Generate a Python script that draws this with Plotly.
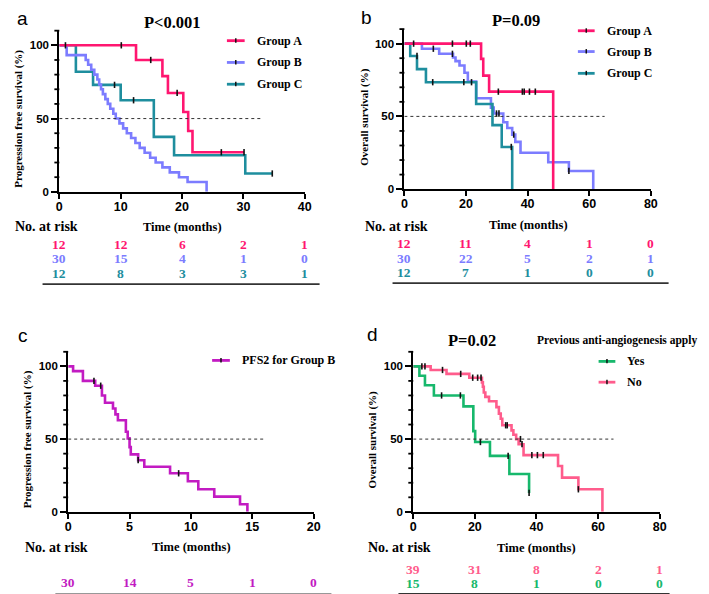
import plotly.graph_objects as go

W, H = 709, 594

# ---------------- data ----------------
a_A_t = [0, 12.5, 16.8, 17.7, 20.2, 21.0, 21.7, 30.1]
a_A_s = [100, 90, 79, 67.5, 54.5, 41.5, 27, 27]
a_A_ct = [1.0, 10.1, 14.9, 19.2, 26.4, 30.1]
a_A_cs = [100, 100, 90, 67.5, 27, 27]

a_B_t = [0, 1.2, 4.3, 4.7, 5.2, 5.7, 6.2, 6.5, 6.8, 7.1, 7.5, 7.9, 8.3, 8.8, 9.2,
         9.8, 10.4, 11.0, 11.7, 12.4, 13.1, 13.9, 14.8, 15.7, 16.8, 18.0, 19.5, 20.9, 24.0]
a_B_s = [100, 93.3, 90, 86.7, 83.3, 80, 76.7, 73.3, 70, 66.7, 63.3, 60, 56.7, 53.3, 50,
         46.7, 43.3, 40, 36.7, 33.3, 30, 26.7, 23.3, 20, 16.7, 13.3, 10, 6.7, 0]
a_B_ct = []
a_B_cs = []

a_C_t = [0, 2.7, 5.5, 10.0, 15.4, 18.7, 30.3, 34.7]
a_C_s = [100, 82, 73, 62.5, 37.5, 25, 12.5, 12.5]
a_C_ct = [9.0, 12.1, 34.7]
a_C_cs = [73, 62.5, 12.5]

a_ticks = [0, 10, 20, 30, 40]
a_risk_A = [12, 12, 6, 2, 1]
a_risk_B = [30, 15, 4, 1, 0]
a_risk_C = [12, 8, 3, 3, 1]

b_A_t = [0, 24.9, 25.6, 27.5, 48.3]
b_A_s = [100, 89.5, 78, 67, 0]
b_A_ct = [3.0, 15.6, 20.1, 21.4, 30.5, 38.3, 38.9, 40.6, 42.5]
b_A_cs = [100, 100, 100, 100, 67, 67, 67, 67, 67]

b_B_t = [0, 5.7, 11.3, 15.8, 16.6, 17.9, 19.5, 20.6, 23.3, 28.1, 29.0, 32.1, 33.4,
         35.0, 36.0, 37.7, 46.7, 53.4, 61.3]
b_B_s = [100, 96.5, 93, 90.5, 88, 85, 80, 74, 62.5, 56, 52, 46, 42,
         37.5, 32.5, 25, 18.5, 12.5, 0]
b_B_ct = [9.4, 15.6, 29.9, 30.7, 35.5, 53.4]
b_B_cs = [96.5, 93, 52, 52, 37.5, 12.5]

b_C_t = [0, 1.9, 4.1, 7.0, 23.3, 28.6, 31.6, 35.0]
b_C_s = [100, 91.5, 82.5, 73.5, 58.5, 44, 29, 0]
b_C_ct = [4.1, 9.2, 19.3, 21.8, 34.7]
b_C_cs = [91.5, 73.5, 73.5, 73.5, 29]

b_ticks = [0, 20, 40, 60, 80]
b_risk_A = [12, 11, 4, 1, 0]
b_risk_B = [30, 22, 5, 2, 1]
b_risk_C = [12, 7, 1, 0, 0]

c_t = [0, 0.4, 1.2, 2.2, 2.75, 3.0, 3.65, 3.85, 4.05, 4.7, 4.85, 5.0, 5.1, 5.7, 6.2,
       8.3, 9.75, 10.6, 11.9, 14.0, 14.6]
c_s = [100, 96.7, 90, 86.7, 80, 75, 71, 67, 63, 55, 50.5, 44.5, 39.5, 35.5, 31,
       26.5, 21, 15.5, 10.5, 5.2, 0]
c_ct = [2.1, 2.65, 5.7, 9.0]
c_cs = [90, 86.7, 35.5, 26.5]

c_ticks = [0, 5, 10, 15, 20]
c_risk = [30, 14, 5, 1, 0]

d_Y_t = [0, 2.0, 3.8, 6.7, 16.3, 19.5, 20.1, 24.9, 31.2, 37.6]
d_Y_s = [100, 93.5, 87, 80, 72.5, 55.5, 48, 38.5, 26, 13]
d_Y_ct = [9.2, 15.3, 21.8, 30.8, 37.6]
d_Y_cs = [80, 80, 48, 38.5, 13]

d_N_t = [0, 5.65, 10.8, 18.2, 22.3, 22.6, 22.9, 23.4, 24.6, 27.0, 27.8, 28.4, 28.9,
         31.9, 32.5, 33.4, 34.2, 35.8, 47.0, 48.3, 53.6, 61.4]
d_N_s = [100, 97.5, 94.8, 92.2, 89, 86, 82, 79, 76, 72, 67.5, 64, 59.5,
         56, 53, 50, 46.5, 39, 31.5, 23.5, 15.5, 0]
d_N_ct = [2.8, 3.8, 9.5, 15.4, 19.3, 20.9, 22.0, 30.0, 30.5, 34.8, 35.3, 38.5, 40.3, 42.2, 53.6]
d_N_cs = [100, 100, 97.5, 94.8, 92.2, 92.2, 92.2, 59.5, 59.5, 50, 46.5, 39, 39, 39, 15.5]

d_ticks = [0, 20, 40, 60, 80]
d_risk_N = [39, 31, 8, 2, 1]
d_risk_Y = [15, 8, 1, 0, 0]

y_major = [0, 50, 100]
y_minor = [10, 20, 30, 40, 60, 70, 80, 90, 110]

# ---------------- styling ----------------
COL_A = "#FF1670"
COL_B = "#7C7CFF"
COL_C = "#1E8E9E"
COL_P = "#C21BC2"
COL_YES = "#17B86C"
COL_NO = "#FF5C8C"
SANS = "Liberation Sans, Arial, sans-serif"
SERIF = "Liberation Serif, Times New Roman, serif"


def fx(x):
    return x / W


def fy(y):
    return 1 - y / H


fig = go.Figure()


def km(n, t, s, color, ct, cs, width=2.6):
    xa = "x" if n == 1 else f"x{n}"
    ya = "y" if n == 1 else f"y{n}"
    fig.add_trace(go.Scatter(x=t, y=s, mode="lines", line=dict(color=color, width=width, shape="hv"),
                             xaxis=xa, yaxis=ya, showlegend=False, hoverinfo="skip"))
    if ct:
        fig.add_trace(go.Scatter(x=ct, y=cs, mode="markers",
                                 marker=dict(symbol="line-ns", size=4.5, line=dict(color="#111", width=1.6)),
                                 xaxis=xa, yaxis=ya, showlegend=False, cliponaxis=False, hoverinfo="skip"))


km(1, a_C_t, a_C_s, COL_C, a_C_ct, a_C_cs)
km(1, a_B_t, a_B_s, COL_B, a_B_ct, a_B_cs)
km(1, a_A_t, a_A_s, COL_A, a_A_ct, a_A_cs)
km(2, b_B_t, b_B_s, COL_B, b_B_ct, b_B_cs)
km(2, b_C_t, b_C_s, COL_C, b_C_ct, b_C_cs)
km(2, b_A_t, b_A_s, COL_A, b_A_ct, b_A_cs)
km(3, c_t, c_s, COL_P, c_ct, c_cs)
km(4, d_N_t, d_N_s, COL_NO, d_N_ct, d_N_cs)
km(4, d_Y_t, d_Y_s, COL_YES, d_Y_ct, d_Y_cs)

shapes = []
annotations = []


def axes(n, xpx, ypx0, ypx100, ticks):
    per = (ypx0 - ypx100) / 100.0
    ytop = ypx0 - 110 * per
    xd = [fx(xpx[0]), fx(xpx[1])]
    yd = [fy(ypx0), fy(ytop)]
    suffix = "" if n == 1 else str(n)
    xa = dict(domain=xd, range=[ticks[0], ticks[-1]], tickmode="array", tickvals=ticks,
              anchor="y" + suffix,
              showline=True, linecolor="black", linewidth=2, ticks="outside", ticklen=5,
              tickwidth=2, tickcolor="black", showgrid=False, zeroline=False,
              ticklabelstandoff=-3,
              tickfont=dict(family=SANS, size=12.5, color="black", weight="bold"))
    ya = dict(domain=yd, range=[0, 110], tickmode="array", tickvals=y_major,
              anchor="x" + suffix,
              showline=True, linecolor="black", linewidth=2, ticks="outside", ticklen=6,
              tickwidth=2, tickcolor="black", showgrid=False, zeroline=False,
              tickfont=dict(family=SANS, size=11.5, color="black", weight="bold"))
    fig.layout["xaxis" + suffix] = xa
    fig.layout["yaxis" + suffix] = ya
    # minor y ticks (axis decoration): map each value through the panel's y scale
    for v in y_minor:
        yp = ypx0 - v * per
        shapes.append(dict(type="line", xref="paper", yref="paper",
                           x0=fx(xpx[0] - 5), x1=fx(xpx[0]), y0=fy(yp), y1=fy(yp),
                           line=dict(color="black", width=1.8), layer="above"))


axes(1, (49, 298), 185.7, 37.7, a_ticks)
axes(2, (399, 649), 183, 36, b_ticks)
axes(3, (58, 307), 509, 362, c_ticks)
axes(4, (408, 658), 509, 362, d_ticks)


def text(t, x, y, size, color="black", family=SERIF, bold=True, xanchor="center", angle=0):
    annotations.append(dict(text=t, x=fx(x), y=fy(y), xref="paper", yref="paper", showarrow=False,
                            xanchor=xanchor, yanchor="middle", textangle=angle,
                            font=dict(family=family, size=size, color=color,
                                      weight="bold" if bold else "normal")))


def hline(x0, x1, y, color="#333", width=1.8):
    shapes.append(dict(type="line", xref="paper", yref="paper", x0=fx(x0), x1=fx(x1), y0=fy(y), y1=fy(y),
                       line=dict(color=color, width=width)))


def legend_item(x0, x1, y, color, label, size=12):
    hline(x0, x1, y, color=color, width=2.8)
    xm = (x0 + x1) / 2
    shapes.append(dict(type="line", xref="paper", yref="paper", x0=fx(xm), x1=fx(xm), y0=fy(y - 2.5), y1=fy(y + 2),
                       line=dict(color="#111", width=1.5)))
    text(label, x1 + 10, y, size, xanchor="left")


def median(n, x1):
    suffix = "" if n == 1 else str(n)
    shapes.append(dict(type="line", xref="x" + suffix, yref="y" + suffix, x0=0, x1=x1, y0=50, y1=50,
                       line=dict(color="#333", width=1, dash="dot")))


def risk_row(n, ticks, values, y, color, size=13.5):
    suffix = "" if n == 1 else str(n)
    for t, v in zip(ticks, values):
        annotations.append(dict(text=str(v), x=t, y=fy(y), xref="x" + suffix, yref="paper", showarrow=False,
                                xanchor="center", yanchor="middle",
                                font=dict(family=SERIF, size=size, color=color, weight="bold")))


median(1, 33)
median(2, 65)
median(3, 16)
median(4, 65)

# panel a
text("a", 12, 11, 19, family=SANS, bold=False)
text("P<0.001", 164, 15, 16.5)
text("Progression free survival (%)", 8, 112, 11, angle=-90)
legend_item(219, 237, 33, COL_A, "Group A")
legend_item(219, 237, 55, COL_B, "Group B")
legend_item(219, 237, 77, COL_C, "Group C")
text("No. at risk", 2, 221, 14, xanchor="left")
text("Time (months)", 174, 221.5, 12.5)
risk_row(1, a_ticks, a_risk_A, 239, COL_A)
risk_row(1, a_ticks, a_risk_B, 253, COL_B)
risk_row(1, a_ticks, a_risk_C, 268, COL_C)
hline(32, 313, 279)

# panel b
text("b", 361, 10, 19, family=SANS, bold=False)
text("P=0.09", 512, 12.5, 16.5)
text("Overall survival (%)", 359, 110, 11, angle=-90)
legend_item(575, 592, 23, COL_A, "Group A")
legend_item(575, 592, 44, COL_B, "Group B")
legend_item(575, 592, 66, COL_C, "Group C")
text("No. at risk", 357, 221, 14, xanchor="left")
text("Time (months)", 524.5, 219.5, 12.5)
risk_row(2, b_ticks, b_risk_A, 238, COL_A)
risk_row(2, b_ticks, b_risk_B, 253, COL_B)
risk_row(2, b_ticks, b_risk_C, 267, COL_C)
hline(387, 667, 278)

# panel c
text("c", 12, 331, 19, family=SANS, bold=False)
text("Progression free survival (%)", 17, 436, 11, angle=-90)
legend_item(204, 222, 356, COL_P, "PFS2 for Group B")
text("No. at risk", 12, 545, 14, xanchor="left")
text("Time (months)", 183, 545, 12.5)
risk_row(3, c_ticks, c_risk, 580, COL_P)
hline(45, 325, 592.5)

# panel d
text("d", 367, 330, 19, family=SANS, bold=False)
text("P=0.02", 468, 336, 16.5)
text("Previous anti-angiogenesis apply", 531, 336, 11.5, xanchor="left")
text("Overall survival (%)", 367, 436, 11, angle=-90)
legend_item(596, 613, 357, COL_YES, "Yes")
legend_item(596, 613, 378, COL_NO, "No")
text("No. at risk", 360, 545, 14, xanchor="left")
text("Time (months)", 533, 546, 12.5)
risk_row(4, d_ticks, d_risk_N, 567, COL_NO)
risk_row(4, d_ticks, d_risk_Y, 581, COL_YES)
hline(393, 668, 592)

fig.update_layout(width=W, height=H, autosize=False, margin=dict(l=0, r=0, t=0, b=0),
                  paper_bgcolor="white", plot_bgcolor="white", showlegend=False,
                  annotations=annotations, shapes=shapes)

fig.write_html("out.html")
